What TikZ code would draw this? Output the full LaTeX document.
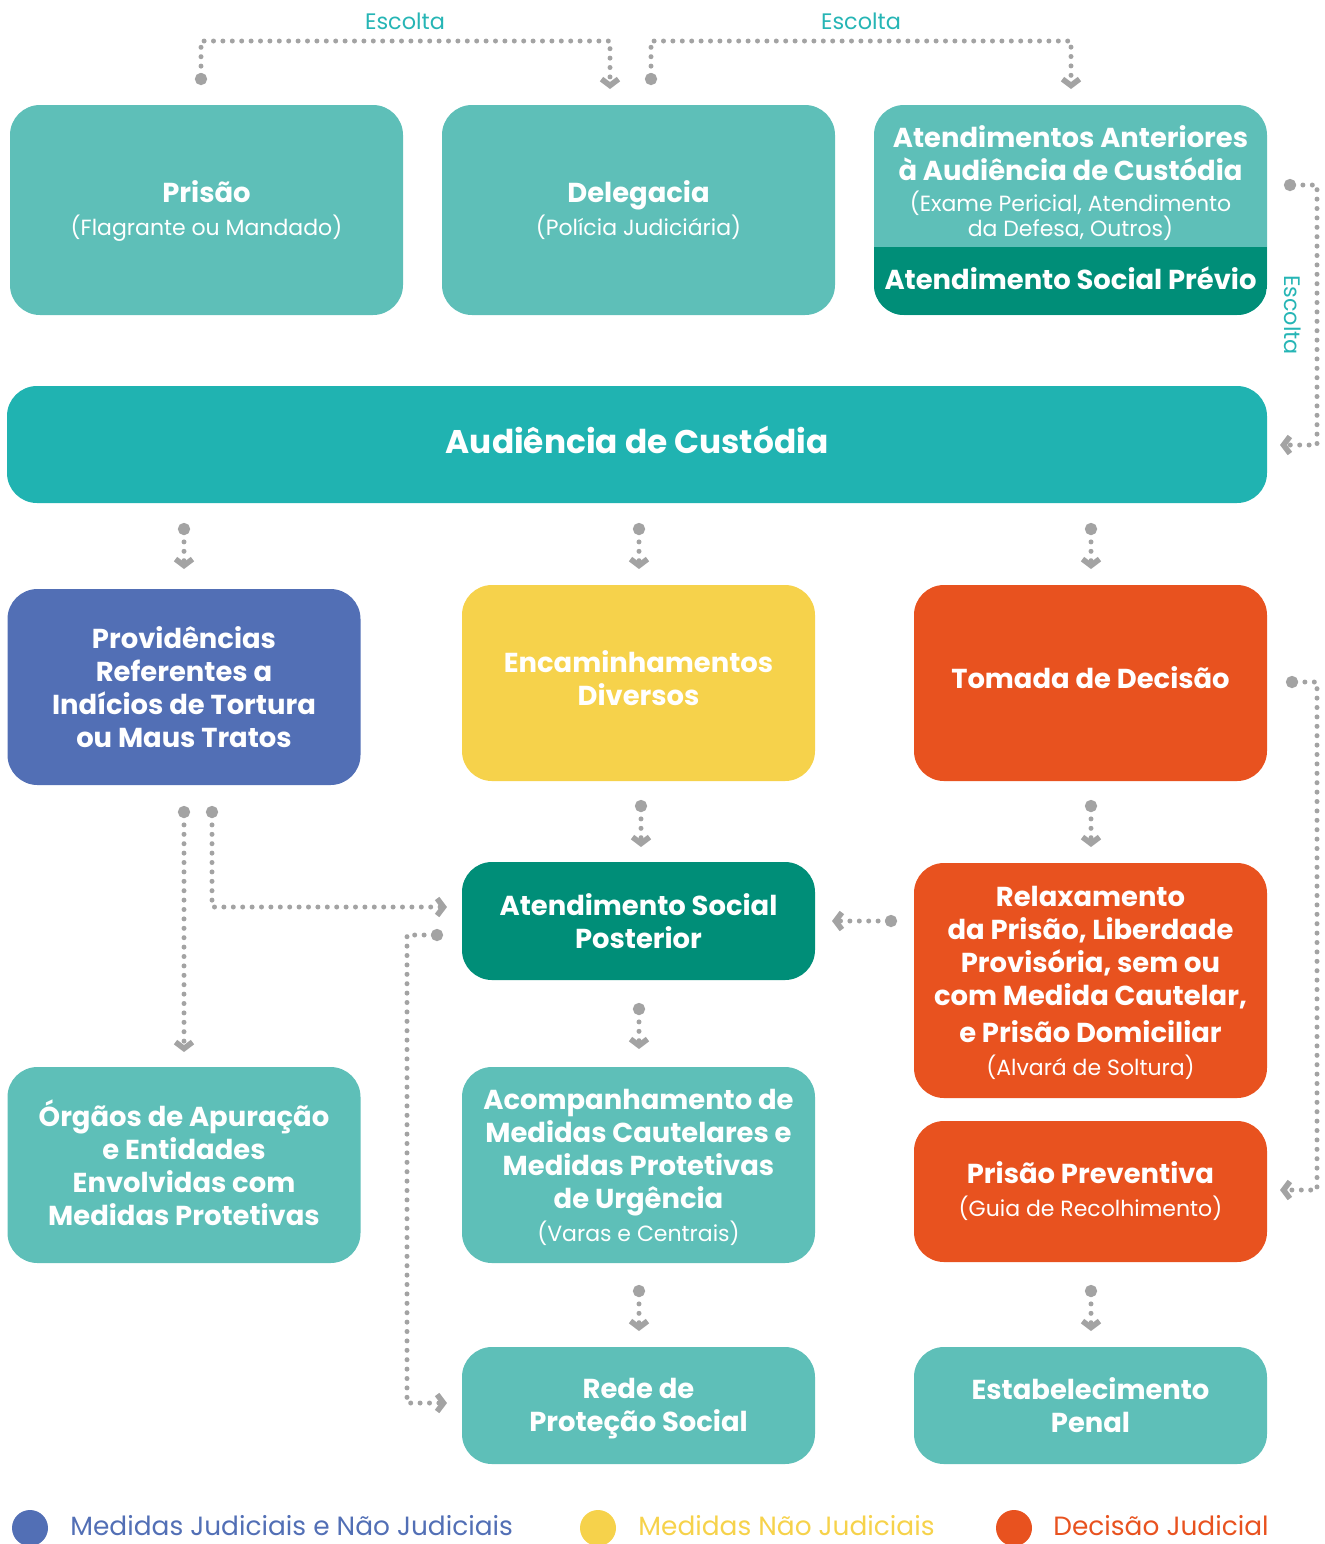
\documentclass[tikz,border=0pt]{standalone}
\usepackage{fontspec}
\setmainfont{Poppins}
\usetikzlibrary{arrows.meta}
\definecolor{lteal}{HTML}{5EBFB8}
\definecolor{aud}{HTML}{20B3B1}
\definecolor{dgreen}{HTML}{008E78}
\definecolor{blu}{HTML}{526FB5}
\definecolor{yel}{HTML}{F6D24B}
\definecolor{ora}{HTML}{E8521F}
\definecolor{dotg}{HTML}{A3A3A3}
\definecolor{esc}{HTML}{26B5B5}
\newcommand\tbf{\fontsize{13.7}{16.5}\selectfont\bfseries}
\newcommand\tsm{\fontsize{11}{12.5}\selectfont\mdseries}
\begin{document}
\begin{tikzpicture}[x=0.5pt,y=-0.5pt,
  box/.style={rounded corners=15pt, text=white, align=center, inner sep=0pt, font=\tbf, minimum width=176.5pt},
  wide/.style={minimum width=196.5pt, minimum height=105pt},
  tall/.style={minimum height=98pt},
  short/.style={minimum height=58.5pt},
  conn/.style={draw=dotg, line width=2.5pt, line cap=round, dash pattern=on 0pt off 4.7pt,
    {Circle[length=6pt]}-{Straight Barb[length=3.2pt,width=8.5pt,line width=2.8pt]}},
  esclabel/.style={text=esc, font=\fontsize{11.2}{13}\selectfont, inner sep=0pt},
  legtext/.style={anchor=base west, font=\fontsize{13.2}{15}\selectfont, inner sep=0pt}
]
\useasboundingbox (0,0) rectangle (1325,1544);

% top row
\node[box, wide, fill=lteal, text depth=1.5pt] (prisao) at (206.5,210) {Prisão\\[0pt]{\tsm (Flagrante ou Mandado)}};
\node[box, wide, fill=lteal, text depth=1.5pt] (deleg) at (638.5,210) {Delegacia\\[0pt]{\tsm (Polícia Judiciária)}};
\node[box, wide, fill=lteal] (atend) at (1070.5,210) {};
\begin{scope}
  \clip[rounded corners=15pt] (874,105) rectangle (1267,315);
  \fill[dgreen] (874,247) rectangle (1267,315);
\end{scope}
\node[text=white, align=center, inner sep=0pt, font=\tbf] (atendtxt) at (1070.5,183)
  {Atendimentos Anteriores\\à Audiência de Custódia\\[-1pt]{\tsm (Exame Pericial, Atendimento}\\[-4pt]{\tsm da Defesa, Outros)}};
\node[text=white, inner sep=0pt, font=\tbf] (prev0) at (1070.5,278) {Atendimento Social Prévio};

% audiencia
\node[box, fill=aud, minimum width=630pt, short, text depth=5pt, font=\fontsize{16.4}{20}\selectfont\bfseries] (aud) at (637,444.5) {Audiência de Custódia};

% row 3
\node[box, tall, fill=blu] (prov) at (184,687) {Providências\\Referentes a\\Indícios de Tortura\\ou Maus Tratos};
\node[box, tall, fill=yel, text depth=4.5pt] (enc) at (638.5,683) {Encaminhamentos\\Diversos};
\node[box, tall, fill=ora, text depth=5pt] (tom) at (1090.5,683) {Tomada de Decisão};

% row 4
\node[box, minimum height=59pt, fill=dgreen] (asp) at (638.5,921) {Atendimento Social\\Posterior};
\node[box, minimum height=117.5pt, fill=ora, text depth=0pt] (rel) at (1090.5,980.5) {Relaxamento\\da Prisão, Liberdade\\Provisória, sem ou\\com Medida Cautelar,\\[2pt]e Prisão Domiciliar\\{\tsm (Alvará de Soltura)}};

% row 5
\node[box, tall, fill=lteal, text depth=2pt] (org) at (184,1165) {Órgãos de Apuração\\e Entidades\\Envolvidas com\\Medidas Protetivas};
\node[box, tall, fill=lteal, text depth=0pt] (acomp) at (638.5,1165) {Acompanhamento de\\Medidas Cautelares e\\Medidas Protetivas\\de Urgência\\{\tsm (Varas e Centrais)}};
\node[box, minimum height=70.5pt, fill=ora] (prevent) at (1090.5,1191.5) {Prisão Preventiva\\[0pt]{\tsm (Guia de Recolhimento)}};

% row 6
\node[box, short, fill=lteal, text depth=0.6pt] (rede) at (638.5,1405.5) {Rede de\\Proteção Social};
\node[box, short, fill=lteal] (estab) at (1090.5,1405.5) {Estabelecimento\\Penal};

% connector ends
\coordinate (e1s) at (201,85);  \coordinate (e1e) at (610,89);
\coordinate (e2s) at (651,85);  \coordinate (e2e) at (1071,89);
\coordinate (e3s) at (1284,185); \coordinate (e3e) at (1280,445);
\coordinate (a1s) at (184,523); \coordinate (a1e) at (184,569);
\coordinate (a2s) at (639,523); \coordinate (a2e) at (639,569);
\coordinate (a3s) at (1091,523); \coordinate (a3e) at (1091,569);
\coordinate (b1s) at (641,800); \coordinate (b1e) at (641,847);
\coordinate (b2s) at (1091,800); \coordinate (b2e) at (1091,847);
\coordinate (p1s) at (184,806); \coordinate (p1e) at (184,1052);
\coordinate (p2s) at (212,806); \coordinate (p2e) at (447,907);
\coordinate (q1s) at (443,935); \coordinate (q1e) at (447,1403);
\coordinate (r1s) at (897,921); \coordinate (r1e) at (832,921);
\coordinate (s1s) at (639,1003); \coordinate (s1e) at (639,1049);
\coordinate (s2s) at (639,1285); \coordinate (s2e) at (639,1331);
\coordinate (s3s) at (1091,1285); \coordinate (s3e) at (1091,1331);
\coordinate (t1s) at (1286,682); \coordinate (t1e) at (1280,1190);

\draw[conn] (e1s) -- ++(0,-44) -| (e1e);
\draw[conn] (e2s) -- ++(0,-44) -| (e2e);
\draw[conn] (e3s) -- ++(33,0) |- (e3e);
\draw[conn] (a1s) -- (a1e);
\draw[conn] (a2s) -- (a2e);
\draw[conn] (a3s) -- (a3e);
\draw[conn] (b1s) -- (b1e);
\draw[conn] (b2s) -- (b2e);
\draw[conn] (p1s) -- (p1e);
\draw[conn] (p2s) |- (p2e);
\draw[conn] (q1s) -- ++(-36,0) |- (q1e);
\draw[conn] (r1s) -- (r1e);
\draw[conn] (s1s) -- (s1e);
\draw[conn] (s2s) -- (s2e);
\draw[conn] (s3s) -- (s3e);
\draw[conn] (t1s) -- ++(31,0) |- (t1e);

\node[esclabel] (esc1) at (405,21) {Escolta};
\node[esclabel] (esc2) at (861,21) {Escolta};
\node[esclabel, rotate=-90] (esc3) at (1293,315) {Escolta};

% legend
\node[circle, fill=blu, minimum size=18pt, inner sep=0pt] (l1) at (30,1528) {};
\node[circle, fill=yel, minimum size=18pt, inner sep=0pt] (l2) at (598,1528) {};
\node[circle, fill=ora, minimum size=18pt, inner sep=0pt] (l3) at (1014,1528) {};
\node[legtext, text=blu] (t1) at (70,1535) {Medidas Judiciais e Não Judiciais};
\node[legtext, text=yel] (t2) at (638,1535) {Medidas Não Judiciais};
\node[legtext, text=ora] (t3) at (1053,1535) {Decisão Judicial};
\end{tikzpicture}
\end{document}
